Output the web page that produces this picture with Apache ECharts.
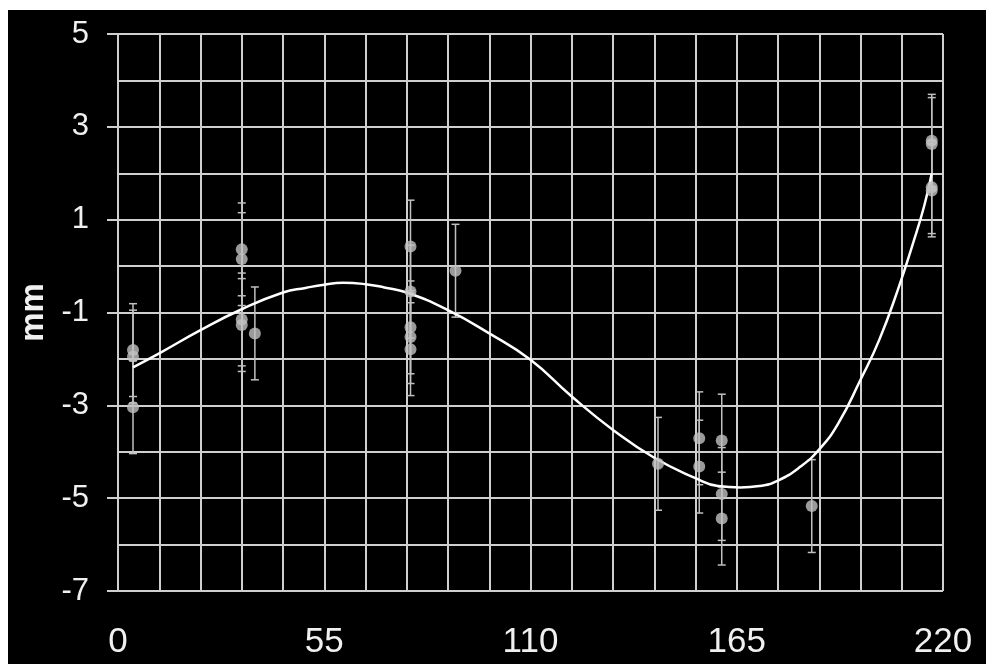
<!DOCTYPE html>
<html>
<head>
<meta charset="utf-8">
<script src="https://cdn.jsdelivr.net/npm/echarts@6/dist/echarts.min.js"></script>
<style>
  html, body { margin: 0; padding: 0; background: #fff; }
  #chart { position: absolute; left: 8px; top: 10px; width: 978px; height: 654px; background: #000; }
</style>
</head>
<body>
<div id="chart"></div>
<script>
// measured points (x, mean, +/- error)
var ptX = [4, 4, 4, 33, 33, 33, 33, 36.5, 78, 78, 78, 78, 78, 90, 144, 155, 155, 161, 161, 161, 185, 217, 217, 217, 217];
var ptY = [-1.81, -1.95, -3.04, 0.36, 0.15, -1.15, -1.27, -1.45, 0.42, -0.55, -1.32, -1.53, -1.79, -0.1, -4.26, -3.71, -4.32, -3.76, -4.91, -5.44, -5.17, 2.7, 2.63, 1.7, 1.63];
var ptErr = [1, 1, 1, 1, 1, 1, 1, 1, 1, 1, 1, 1, 1, 1, 1, 1, 1, 1, 1, 1, 1, 1, 1, 1, 1];

// fitted curve
var fitX = [4, 11, 22, 33, 44, 50, 55, 60, 66, 71, 77, 88, 99, 110, 121, 132, 143, 154, 160, 166, 171, 176, 182, 187, 192, 198, 203, 208, 212, 215, 217];
var fitY = [-2.18, -1.88, -1.38, -0.93, -0.57, -0.47, -0.40, -0.36, -0.39, -0.46, -0.57, -0.95, -1.45, -2.02, -2.81, -3.53, -4.13, -4.57, -4.74, -4.77, -4.74, -4.62, -4.32, -3.95, -3.4, -2.45, -1.59, -0.5, 0.49, 1.3, 2.0];

var gridColor = '#cfcfcf';
var ptColor = '#c0c0c0';

var pts = [];
for (var i = 0; i < ptX.length; i++) {
    pts.push([ptX[i], ptY[i], ptErr[i]]);
}
var fit = [];
for (var j = 0; j < fitX.length; j++) {
    fit.push([fitX[j], fitY[j]]);
}

function renderErr(params, api) {
    var x = api.value(0), y = api.value(1), e = api.value(2);
    var hi = api.coord([x, y + e]);
    var lo = api.coord([x, y - e]);
    var w = 4;
    var st = { stroke: ptColor, lineWidth: 1.5 };
    return {
        type: 'group',
        children: [
            { type: 'line', shape: { x1: hi[0], y1: hi[1], x2: lo[0], y2: lo[1] }, style: st },
            { type: 'line', shape: { x1: hi[0] - w, y1: hi[1], x2: hi[0] + w, y2: hi[1] }, style: st },
            { type: 'line', shape: { x1: lo[0] - w, y1: lo[1], x2: lo[0] + w, y2: lo[1] }, style: st }
        ]
    };
}

var chart = echarts.init(document.getElementById('chart'));
var option = {
    backgroundColor: '#000',
    animation: false,
    grid: { left: 110, top: 24, right: 43, bottom: 73 },
    xAxis: {
        type: 'value',
        min: 0,
        max: 220,
        interval: 55,
        axisLine: { show: true, lineStyle: { color: gridColor, width: 2 } },
        axisTick: { show: false },
        axisLabel: { color: '#f0f0f0', fontSize: 35, fontFamily: 'Liberation Sans', margin: 34 },
        splitLine: { show: true, lineStyle: { color: gridColor, width: 2 } },
        minorTick: { show: false, splitNumber: 5 },
        minorSplitLine: { show: true, lineStyle: { color: gridColor, width: 2 } }
    },
    yAxis: {
        type: 'value',
        min: -7,
        max: 5,
        interval: 2,
        name: 'mm',
        nameLocation: 'middle',
        nameRotate: 90,
        nameGap: 56,
        nameTextStyle: { color: '#f0f0f0', fontSize: 33, fontWeight: 'bold', fontFamily: 'Liberation Sans' },
        axisLine: { show: true, lineStyle: { color: gridColor, width: 2 } },
        axisTick: { show: true, length: 11, lineStyle: { color: gridColor, width: 2 } },
        axisLabel: { color: '#f0f0f0', fontSize: 31, fontFamily: 'Liberation Sans', margin: 29 },
        splitLine: { show: true, lineStyle: { color: gridColor, width: 2 } },
        minorTick: { show: false, splitNumber: 2 },
        minorSplitLine: { show: true, lineStyle: { color: gridColor, width: 2 } }
    },
    series: [
        {
            type: 'custom',
            renderItem: renderErr,
            data: pts,
            z: 3
        },
        {
            type: 'line',
            data: fit,
            smooth: 0.5,
            showSymbol: false,
            lineStyle: { color: '#ffffff', width: 2.5 },
            z: 4
        },
        {
            type: 'scatter',
            data: pts,
            symbolSize: 12,
            itemStyle: { color: ptColor },
            z: 5
        }
    ]
};
chart.setOption(option);
</script>
</body>
</html>
